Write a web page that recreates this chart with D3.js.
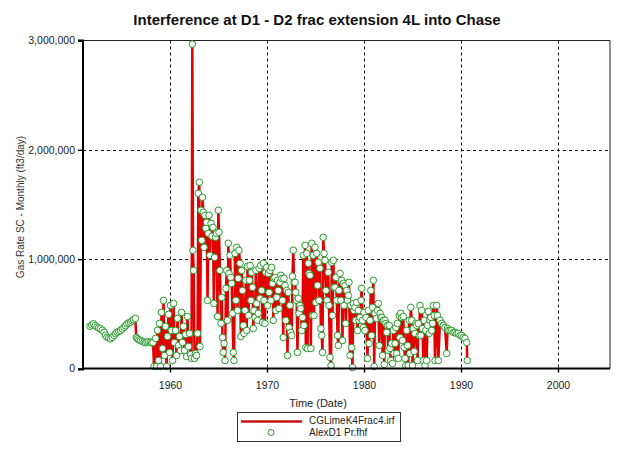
<!DOCTYPE html>
<html><head><meta charset="utf-8">
<script src="https://cdn.jsdelivr.net/npm/d3@7"></script>
<style>body{margin:0;background:#fff;} svg{display:block;font-family:Arial,"Liberation Sans",sans-serif;}</style>
</head><body><svg id="c" width="633" height="450"></svg>
<script>
const chartTitle = "Interference at D1 - D2 frac extension 4L into Chase";
const yAxisTitle = "Gas Rate SC - Monthly (ft3/day)";
const xAxisTitle = "Time (Date)";
const seriesNames = ["CGLimeK4Frac4.irf", "AlexD1 Pr.fhf"];
const xTickYears = [1960, 1970, 1980, 1990, 2000];
const yTickValues = [0, 1000000, 2000000, 3000000];

// [decimal year, gas rate in thousand ft3/day]
const obs1951to1958 = [
[1951.75,387],[1951.93,398],[1952.11,409],[1952.29,392],[1952.47,378],[1952.65,370],[1952.83,363],[1953.02,350],
[1953.20,332],[1953.35,305],[1953.50,286],[1953.69,278],[1953.87,272],[1954.05,285],[1954.23,302],[1954.38,318],
[1954.54,332],[1954.72,340],[1954.90,348],[1955.08,362],[1955.26,378],[1955.42,392],[1955.57,409],[1955.75,418],
[1955.93,424],[1956.08,436],[1956.24,446],[1956.42,458],[1956.53,284],[1956.65,272],[1956.80,262],[1956.96,256],
[1957.14,248],[1957.32,241],[1957.47,236],[1957.63,241],[1957.81,245],[1957.99,241],[1958.12,232]
];
const obs1958to1966 = [
[1958.25,238],[1958.35,18],[1958.51,275],[1958.61,18],[1958.71,348],[1958.81,73],[1958.92,412],[1959.02,18],
[1959.12,513],[1959.23,183],[1959.33,623],[1959.43,119],[1959.54,385],[1959.64,18],[1959.74,293],[1959.85,495],
[1959.95,147],[1960.05,577],[1960.15,348],[1960.26,73],[1960.36,595],[1960.46,238],[1960.57,348],[1960.67,119],
[1960.77,458],[1960.88,211],[1960.98,293],[1961.08,165],[1961.19,513],[1961.29,238],[1961.39,385],[1961.49,165],
[1961.60,311],[1961.70,110],[1961.80,476],[1961.91,201],[1962.01,321],[1962.11,128],[1962.22,92],[1962.30,2967],
[1962.37,1081],[1962.44,897],[1962.53,92],[1962.63,137],[1962.73,119],[1962.84,321],[1962.92,1603],[1963.02,1703],
[1963.09,201],[1963.20,1447],[1963.28,1172],[1963.35,1566],[1963.43,1429],[1963.51,1108],[1963.61,1401],[1963.69,1282],
[1963.78,1337],[1963.87,623],[1963.95,1236],[1964.02,1401],[1964.12,1035],[1964.23,1328],[1964.33,1209],[1964.43,1291],
[1964.52,595],[1964.59,1017],[1964.69,1200],[1964.79,1236],[1964.90,476],[1964.98,1447],[1965.05,1246],[1965.15,897],
[1965.26,412],[1965.34,650],[1965.41,284],[1965.49,147],[1965.57,229],[1965.67,73],[1965.77,733],[1965.85,897],
[1965.93,440],[1966.01,1145],[1966.08,870],[1966.19,1035],[1966.27,833],[1966.36,778],[1966.44,504],[1966.53,147],
[1966.60,73],[1966.70,1053],[1966.80,623],[1966.88,1108],[1966.96,531]
];
const obs1967to1974 = [
[1967.04,824],[1967.11,1081],[1967.22,962],[1967.30,293],[1967.39,897],[1967.47,714],[1967.56,394],[1967.63,321],
[1967.73,531],[1967.81,806],[1967.91,348],[1967.99,934],[1968.09,485],[1968.18,806],[1968.25,943],[1968.35,623],
[1968.42,879],[1968.51,742],[1968.59,366],[1968.66,531],[1968.76,467],[1968.85,897],[1968.94,595],[1969.02,440],
[1969.10,504],[1969.18,916],[1969.28,641],[1969.36,943],[1969.45,714],[1969.54,421],[1969.62,962],[1969.69,623],
[1969.79,412],[1969.88,879],[1969.97,925],[1970.05,577],[1970.13,870],[1970.21,696],[1970.31,897],[1970.41,623],
[1970.48,925],[1970.57,778],[1970.65,440],[1970.72,824],[1970.82,833],[1970.91,531],[1971.00,650],[1971.08,806],
[1971.16,714],[1971.24,549],[1971.34,788],[1971.42,852],[1971.52,824],[1971.60,623],[1971.68,284],[1971.75,824],
[1971.86,760],[1971.94,440],[1972.03,714],[1972.11,119],[1972.20,696],[1972.27,375],[1972.37,577],[1972.45,330],
[1972.55,302],[1972.63,843],[1972.71,1081],[1972.78,788],[1972.89,788],[1972.97,696],[1973.06,623],[1973.14,147],
[1973.23,641],[1973.30,504],[1973.40,577],[1973.48,549],[1973.58,348],[1973.66,467],[1973.74,1035],[1973.81,394],
[1973.92,1126],[1974.00,192],[1974.09,1053],[1974.18,183],[1974.26,962],[1974.33,870],[1974.43,852],[1974.52,183],
[1974.61,1145],[1974.69,485],[1974.77,1035],[1974.85,485],[1974.95,1108]
];
const obs1975to1980 = [
[1975.03,604],[1975.12,1053],[1975.21,760],[1975.29,971],[1975.36,623],[1975.46,916],[1975.55,366],[1975.64,302],
[1975.72,147],[1975.80,1200],[1975.88,1053],[1975.98,989],[1976.08,714],[1976.19,623],[1976.32,879],[1976.39,577],
[1976.49,101],[1976.60,27],[1976.67,971],[1976.75,485],[1976.84,989],[1976.91,742],[1977.01,742],[1977.11,833],
[1977.19,623],[1977.27,302],[1977.35,211],[1977.42,714],[1977.53,870],[1977.61,623],[1977.70,806],[1977.78,256],
[1977.87,778],[1977.94,577],[1978.04,760],[1978.12,412],[1978.22,714],[1978.30,623],[1978.38,668],[1978.45,788],
[1978.56,119],[1978.64,577],[1978.73,192],[1978.81,9],[1978.90,595],[1978.97,531],[1979.07,559],[1979.15,440],
[1979.25,604],[1979.33,348],[1979.41,531],[1979.48,440],[1979.59,467],[1979.69,623],[1979.76,733],[1979.85,440],
[1979.93,375],[1980.00,513],[1980.10,348],[1980.21,467]
];
const obs1980to1991 = [
[1980.36,92],[1980.44,531],[1980.52,229],[1980.62,440],[1980.70,714],[1980.79,302],[1980.88,559],[1980.96,806],
[1981.05,18],[1981.13,504],[1981.29,458],[1981.39,531],[1981.47,595],[1981.57,211],[1981.65,504],[1981.73,467],
[1981.83,467],[1981.91,119],[1981.99,440],[1982.08,37],[1982.17,440],[1982.25,412],[1982.34,330],[1982.42,394],
[1982.50,165],[1982.60,394],[1982.68,183],[1982.76,73],[1982.86,229],[1982.94,46],[1983.02,348],[1983.11,137],
[1983.20,229],[1983.28,375],[1983.37,137],[1983.45,412],[1983.54,92],[1983.63,485],[1983.71,284],[1983.79,504],
[1983.89,467],[1983.97,256],[1984.05,476],[1984.14,192],[1984.23,92],[1984.31,27],[1984.40,348],[1984.48,211],
[1984.56,27],[1984.66,440],[1984.74,137],[1984.82,559],[1984.92,440],[1985.00,27],[1985.08,366],[1985.17,156],
[1985.26,321],[1985.34,412],[1985.43,394],[1985.52,73],[1985.60,412],[1985.69,302],[1985.77,577],[1985.86,302],
[1985.95,531],[1986.03,366],[1986.11,73],[1986.20,440],[1986.29,27],[1986.37,348],[1986.46,73],[1986.55,394],
[1986.63,522],[1986.72,321],[1986.80,440],[1986.89,467],[1986.98,348],[1987.06,412],[1987.14,577],[1987.24,485],
[1987.32,73],[1987.49,577],[1987.57,485],[1987.66,73],[1987.84,440],[1988.01,412],[1988.18,394],[1988.35,375],
[1988.53,137],[1988.61,366],[1988.69,348],[1988.87,348],[1989.04,348],[1989.21,330],[1989.38,330],[1989.56,321],
[1989.72,321],[1989.90,302],[1990.07,302],[1990.24,284],[1990.41,275],[1990.59,238],[1990.65,73]
];

const observed = [].concat(obs1951to1958, obs1958to1966, obs1967to1974, obs1975to1980, obs1980to1991)
  .map(([t, v]) => ({t, v: v * 1000}));
// the history-matched model follows the observed monthly rates
const simulated = observed;

const svg = d3.select("#c");
const L = 83, R = 610, T = 40.5, B = 368.5;
const x = d3.scaleLinear().domain([1951.03, 2005.36]).range([L, R]);
const y = d3.scaleLinear().domain([0, 3000000]).range([B, T]);

svg.append("text").attr("x", 317).attr("y", 25).attr("text-anchor", "middle")
  .attr("font-size", 15).attr("font-weight", "bold").attr("fill", "#111").text(chartTitle);

// grid
const grid = svg.append("g").attr("stroke", "#111").attr("stroke-width", 1).attr("stroke-dasharray", "3,3");
grid.selectAll(".gx").data(xTickYears).join("line")
  .attr("x1", d => Math.round(x(d)) + 0.5).attr("x2", d => Math.round(x(d)) + 0.5).attr("y1", T).attr("y2", B);
grid.selectAll(".gy").data(yTickValues.filter(d => d > 0 && d < 3000000)).join("line")
  .attr("y1", d => Math.round(y(d)) + 0.5).attr("y2", d => Math.round(y(d)) + 0.5).attr("x1", L).attr("x2", R);

// frame top/right
svg.append("line").attr("x1", L).attr("x2", R).attr("y1", T).attr("y2", T).attr("stroke", "#222");
svg.append("line").attr("x1", R).attr("x2", R).attr("y1", T).attr("y2", B).attr("stroke", "#222");

// data
svg.append("path").datum(simulated)
  .attr("d", d3.line().x(d => x(d.t)).y(d => y(d.v)))
  .attr("fill", "none").attr("stroke", "#e40000").attr("stroke-width", 2.5).attr("stroke-linejoin", "bevel");
svg.append("g").selectAll("circle").data(observed).join("circle")
  .attr("cx", d => x(d.t)).attr("cy", d => y(d.v)).attr("r", 3.3)
  .attr("fill", "#ffffff").attr("stroke", "#2a9a2a").attr("stroke-width", 1);

// axes
const yAxis = svg.append("g").attr("transform", `translate(${L},0)`)
  .call(d3.axisLeft(y).tickValues(yTickValues).tickSize(5).tickPadding(3).tickFormat(d3.format(",")));
const xAxis = svg.append("g").attr("transform", `translate(0,${B})`)
  .call(d3.axisBottom(x).tickValues(xTickYears).tickSize(4).tickPadding(9).tickFormat(d3.format("d")));
[yAxis, xAxis].forEach(a => {
  a.select(".domain").attr("stroke", "#000").attr("stroke-width", 2);
  a.selectAll(".tick line").attr("stroke", "#000").attr("stroke-width", 1.5);
  a.selectAll("text").attr("font-size", 10.5).attr("fill", "#222").attr("font-family", "Arial, 'Liberation Sans', sans-serif");
});
yAxis.select(".domain").attr("d", `M-5,${T}H0V${B + 1}H-5`);
xAxis.select(".domain").attr("d", `M${L - 1},0H${R}`);

svg.append("text").attr("transform", "translate(24,207) rotate(-90)").attr("text-anchor", "middle")
  .attr("font-size", 10).attr("fill", "#333").text(yAxisTitle);
svg.append("text").attr("x", 318).attr("y", 407).attr("text-anchor", "middle")
  .attr("font-size", 11).attr("fill", "#222").text(xAxisTitle);

// legend
const lg = svg.append("g");
lg.append("rect").attr("x", 237.5).attr("y", 412.5).attr("width", 163).attr("height", 29)
  .attr("fill", "#fff").attr("stroke", "#333");
lg.append("line").attr("x1", 241).attr("x2", 302).attr("y1", 421.5).attr("y2", 421.5)
  .attr("stroke", "#cc1010").attr("stroke-width", 2.5);
lg.append("circle").attr("cx", 271).attr("cy", 432.5).attr("r", 3)
  .attr("fill", "#ffffff").attr("stroke", "#2a9a2a");
lg.selectAll("text").data(seriesNames).join("text")
  .attr("x", 309).attr("y", (d, i) => 424 + i * 12).attr("font-size", 10).attr("fill", "#222").text(d => d);
</script></body></html>
